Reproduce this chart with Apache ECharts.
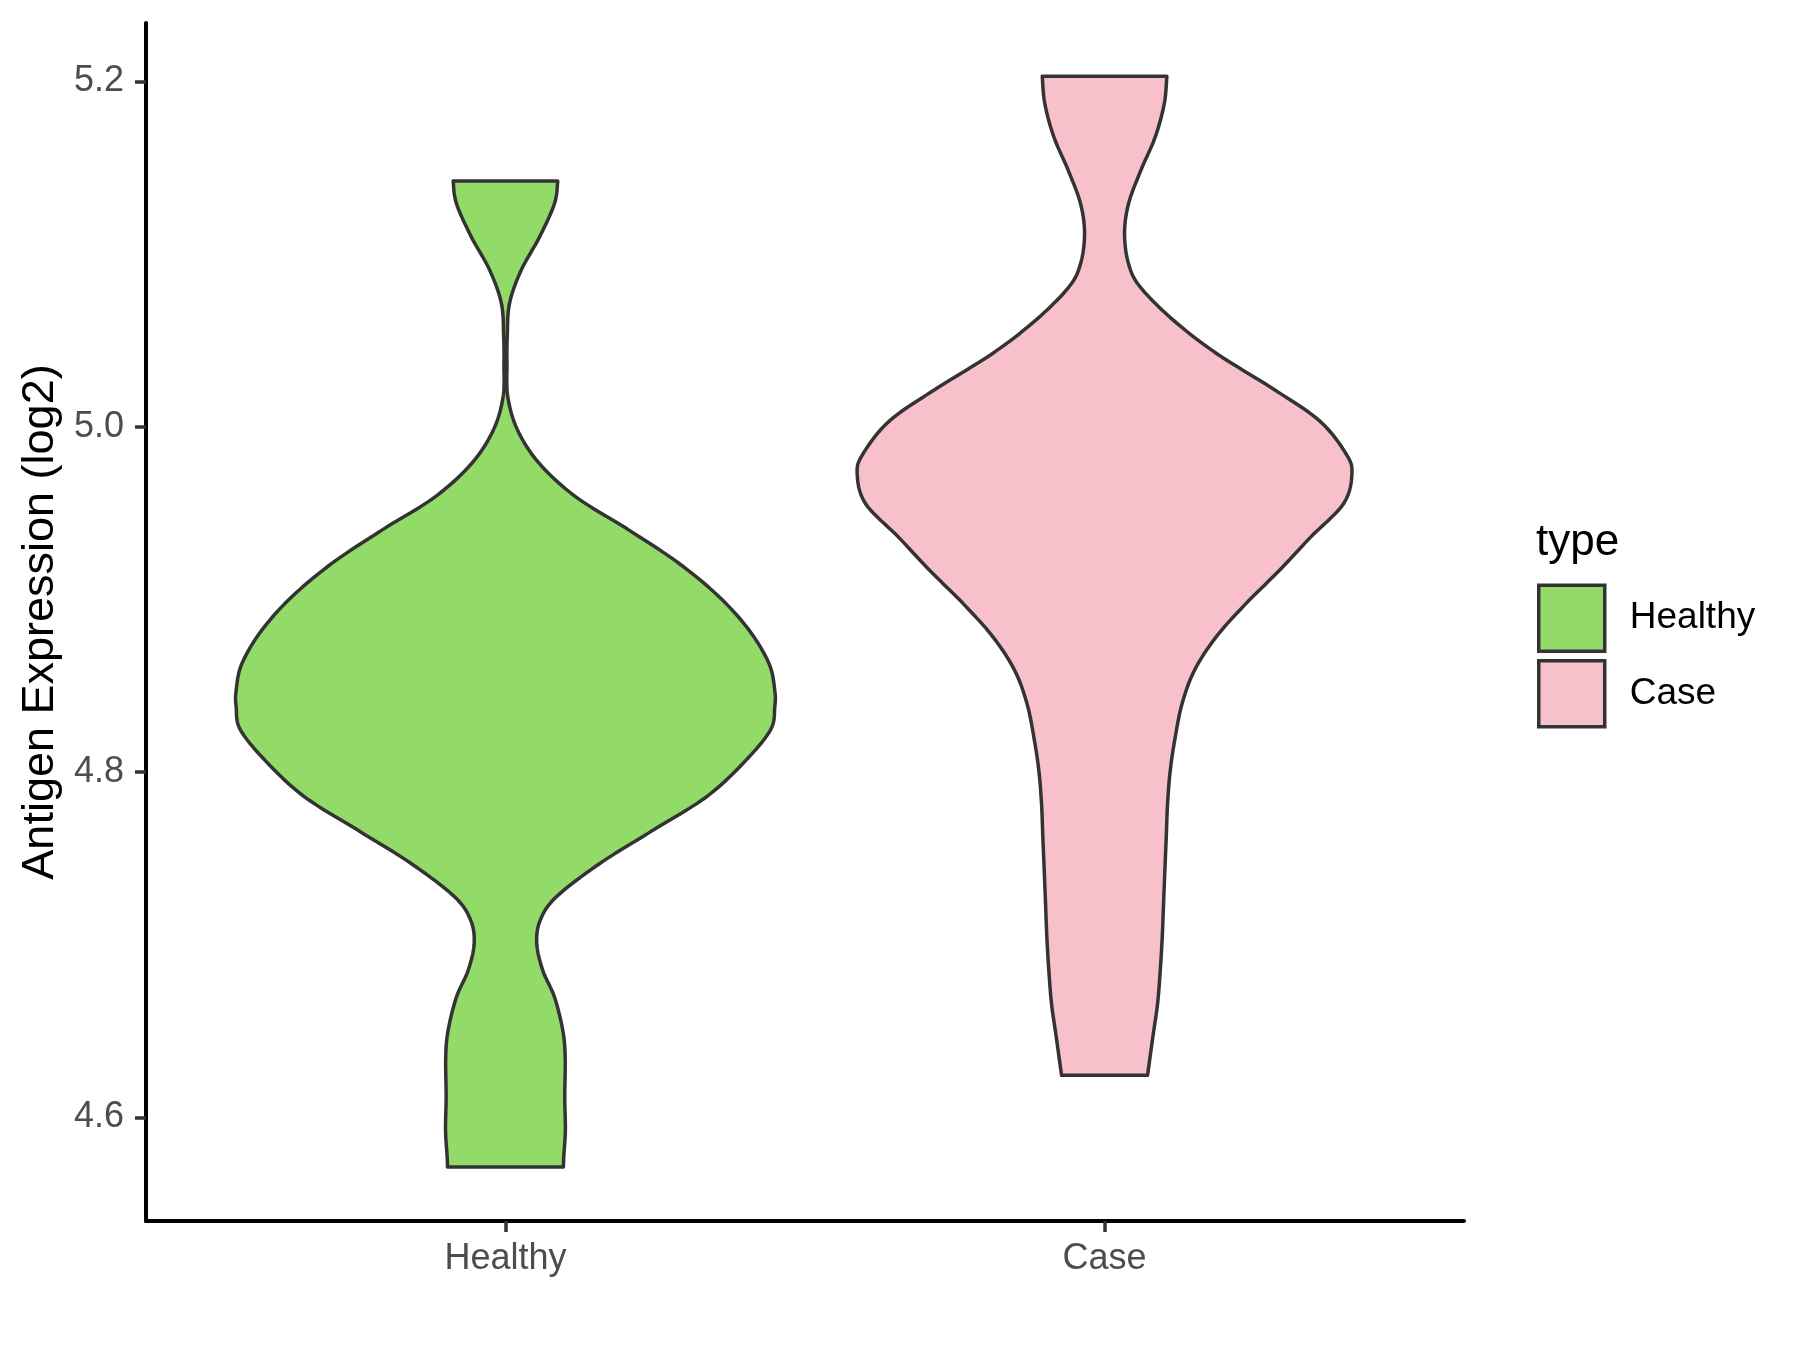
<!DOCTYPE html>
<html>
<head>
<meta charset="utf-8">
<script src="https://cdn.jsdelivr.net/npm/echarts@6/dist/echarts.min.js"></script>
<style>
html,body{margin:0;padding:0;background:#ffffff;}
#chart{width:1800px;height:1350px;}
</style>
</head>
<body>
<div id="chart"></div>
<script>
// ---------------- data ----------------
const categories = ['Healthy', 'Case'];
const fillColors = ['#93DB69', '#F8C0CB'];
const yTicks = [4.6, 4.8, 5.0, 5.2];
const legendTitle = 'type';
const yAxisTitle = 'Antigen Expression (log2)';

// Healthy violin: expression levels (top -> bottom) and half-width (x-axis units)
const healthyY = [5.1423, 5.1292, 5.1098, 5.0906, 5.0713, 5.0520, 5.0365, 5.0172, 4.9979, 4.9786,
                  4.9593, 4.9400, 4.9207, 4.9014, 4.8821, 4.8628, 4.8474, 4.8376, 4.8242, 4.8049,
                  4.7856, 4.7663, 4.7470, 4.7277, 4.7142, 4.7007, 4.6852, 4.6698, 4.6505, 4.6350,
                  4.6119, 4.5926, 4.5772, 4.5714];
const healthyHalfWidth = [0.0873, 0.0818, 0.0568, 0.0262, 0.0067, 0.0030, 0.0025, 0.0040, 0.0205, 0.0568,
                          0.1180, 0.2070, 0.2905, 0.3570, 0.4070, 0.4400, 0.4495, 0.4495, 0.4420, 0.3960,
                          0.3350, 0.2460, 0.1570, 0.0846, 0.0580, 0.0523, 0.0623, 0.0818, 0.0957, 0.0997,
                          0.0990, 0.1000, 0.0973, 0.0968];

// Case violin
const caseY = [5.2029, 5.1871, 5.1678, 5.1485, 5.1292, 5.1118, 5.0944, 5.0809, 5.0616, 5.0423,
               5.0230, 5.0037, 4.9844, 4.9728, 4.9555, 4.9361, 4.9169, 4.8976, 4.8782, 4.8589,
               4.8397, 4.8203, 4.8010, 4.7818, 4.7624, 4.7431, 4.7239, 4.7045, 4.6852, 4.6659,
               4.6466, 4.6245];
const caseHalfWidth = [0.1040, 0.0997, 0.0846, 0.0606, 0.0401, 0.0334, 0.0401, 0.0596, 0.1152, 0.1875,
                       0.2766, 0.3580, 0.4030, 0.4129, 0.3990, 0.3440, 0.2920, 0.2360, 0.1860, 0.1500,
                       0.1295, 0.1180, 0.1097, 0.1052, 0.1030, 0.1007, 0.0985, 0.0963, 0.0930, 0.0885,
                       0.0806, 0.0718];

const profiles = [
  { y: healthyY, hw: healthyHalfWidth },
  { y: caseY, hw: caseHalfWidth }
];

// ---------------- drawing helpers ----------------
function catmullRom(pts, steps) {
  const out = [pts[0]];
  const n = pts.length;
  for (let i = 0; i < n - 1; i++) {
    const p0 = pts[Math.max(i - 1, 0)], p1 = pts[i], p2 = pts[i + 1], p3 = pts[Math.min(i + 2, n - 1)];
    const c1 = [p1[0] + (p2[0] - p0[0]) / 6, p1[1] + (p2[1] - p0[1]) / 6];
    const c2 = [p2[0] - (p3[0] - p1[0]) / 6, p2[1] - (p3[1] - p1[1]) / 6];
    for (let s = 1; s <= steps; s++) {
      const t = s / steps, mt = 1 - t;
      const a = mt * mt * mt, b = 3 * mt * mt * t, c = 3 * mt * t * t, d = t * t * t;
      out.push([a * p1[0] + b * c1[0] + c * c2[0] + d * p2[0],
                a * p1[1] + b * c1[1] + c * c2[1] + d * p2[1]]);
    }
  }
  return out;
}

function makeRenderItem(gi) {
  return function (params, api) {
    const xc = api.value(0);
    const prof = profiles[gi];
    const right = prof.y.map((v, i) => api.coord([xc + prof.hw[i], v]));
    const left = prof.y.map((v, i) => api.coord([xc - prof.hw[i], v])).reverse();
    const pts = catmullRom(right, 12).concat(catmullRom(left, 12));
    return {
      type: 'polygon',
      shape: { points: pts },
      style: { fill: fillColors[gi], stroke: '#333333', lineWidth: 3.5, lineJoin: 'round' }
    };
  };
}

const chart = echarts.init(document.getElementById('chart'), null, { renderer: 'canvas' });

const option = {
  animation: false,
  backgroundColor: '#ffffff',
  textStyle: { fontFamily: 'Liberation Sans, Arial, Helvetica, sans-serif' },
  grid: { left: 146, right: 336, top: 23, bottom: 129, containLabel: false },
  xAxis: {
    type: 'value',
    min: 0.4,
    max: 2.6,
    splitLine: { show: false },
    axisLine: { show: true, onZero: false, lineStyle: { color: '#000000', width: 4 } },
    axisTick: { show: true, length: 11, customValues: [1, 2], lineStyle: { color: '#333333', width: 3.5 } },
    axisLabel: {
      show: true, customValues: [1, 2], margin: 20, fontSize: 36, color: '#4D4D4D',
      formatter: v => categories[Math.round(v) - 1] || ''
    }
  },
  yAxis: {
    type: 'value',
    min: 4.5401,
    max: 5.2338,
    splitLine: { show: false },
    name: yAxisTitle,
    nameLocation: 'middle',
    nameGap: 80,
    nameTextStyle: { fontSize: 45, color: '#000000' },
    axisLine: { show: true, onZero: false, lineStyle: { color: '#000000', width: 4 } },
    axisTick: { show: true, length: 11, customValues: yTicks, lineStyle: { color: '#333333', width: 3.5 } },
    axisLabel: {
      show: true, customValues: yTicks, margin: 22, fontSize: 36, color: '#4D4D4D',
      formatter: v => Number(v).toFixed(1)
    }
  },
  legend: {
    orient: 'vertical',
    left: 1532,
    top: 578.5,
    itemWidth: 66,
    itemHeight: 66,
    itemGap: 6,
    icon: 'rect',
    selectedMode: false,
    formatter: name => '{t|' + name + '}',
    textStyle: {
      fontSize: 37, color: '#000000',
      rich: { t: { fontSize: 37, color: '#000000', padding: [0, 0, 0, 20] } }
    },
    data: categories.map((c, i) => ({
      name: c,
      itemStyle: { color: fillColors[i], borderColor: '#333333', borderWidth: 3.5 }
    }))
  },
  graphic: [{
    type: 'text',
    left: 1536,
    top: 521,
    style: { text: legendTitle, fontSize: 44, fill: '#000000', fontFamily: 'Liberation Sans, Arial, sans-serif' }
  }],
  series: categories.map((c, i) => ({
    type: 'custom',
    name: c,
    itemStyle: { color: fillColors[i] },
    renderItem: makeRenderItem(i),
    data: [[i + 1]],
    encode: { x: 0 },
    clip: false
  }))
};

chart.setOption(option);
</script>
</body>
</html>
